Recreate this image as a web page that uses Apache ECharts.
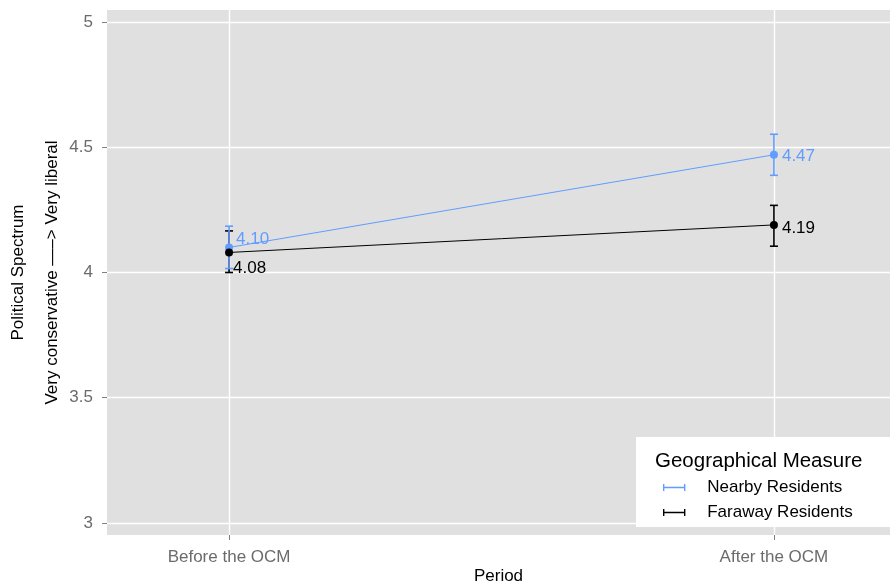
<!DOCTYPE html>
<html>
<head>
<meta charset="utf-8" />
<title>Political Spectrum</title>
<script src="https://cdn.jsdelivr.net/npm/echarts@6/dist/echarts.min.js"></script>
<style>
  html, body { margin: 0; padding: 0; background: #fff; }
  #chart { width: 890px; height: 583px; }
</style>
</head>
<body>
<div id="chart"></div>
<script>
// data
const periods = ['Before the OCM', 'After the OCM'];
const groups = ['Nearby Residents', 'Faraway Residents'];
const nearbyMean = [4.10, 4.47];
const nearbyLow = [4.016, 4.388];
const nearbyHigh = [4.185, 4.552];
const farawayMean = [4.08, 4.19];
const farawayLow = [4.00, 4.105];
const farawayHigh = [4.166, 4.268];
const yTicks = [3, 3.5, 4, 4.5, 5];

const blue = '#619CFF';
const black = '#000000';
const font = 'Liberation Sans, Arial, Helvetica, sans-serif';

// label nudges (before / after), like the original geom_text placement
const labelOffsets = {
  'Nearby Residents': [[-5, -8], [-4, 2]],
  'Faraway Residents': [[-8, 16], [-4, 3]]
};

function lineSeries(name, means, color) {
  return {
    name: name,
    type: 'line',
    z: 3,
    symbol: 'circle',
    symbolSize: 8,
    lineStyle: { color: color, width: 1 },
    itemStyle: { color: color },
    label: {
      show: true,
      position: 'right',
      distance: 8,
      color: color,
      fontSize: 17,
      fontFamily: font,
      formatter: function (p) { return p.value[1].toFixed(2); }
    },
    emphasis: { disabled: true },
    data: means.map(function (m, i) {
      return {
        value: [i, m],
        label: { offset: labelOffsets[name][i] }
      };
    })
  };
}

function errorSeries(name, low, high, color) {
  return {
    name: name,
    type: 'custom',
    z: 2,
    itemStyle: { color: color },
    data: low.map(function (l, i) { return [i, l, high[i]]; }),
    renderItem: function (params, api) {
      const lo = api.coord([api.value(0), api.value(1)]);
      const hi = api.coord([api.value(0), api.value(2)]);
      const w = 4;
      const st = { stroke: color, lineWidth: 1.6 };
      return {
        type: 'group',
        children: [
          { type: 'line', shape: { x1: lo[0], y1: lo[1], x2: hi[0], y2: hi[1] }, style: st },
          { type: 'line', shape: { x1: lo[0] - w, y1: lo[1], x2: lo[0] + w, y2: lo[1] }, style: st },
          { type: 'line', shape: { x1: hi[0] - w, y1: hi[1], x2: hi[0] + w, y2: hi[1] }, style: st }
        ]
      };
    }
  };
}

const chart = echarts.init(document.getElementById('chart'));

const legendIcon = 'path://M0,0h2v10h-2z M0,4h32v2h-32z M30,0h2v10h-2z';

chart.setOption({
  backgroundColor: '#ffffff',
  animation: false,
  grid: {
    left: 107, right: 0, top: 10, bottom: 48,
    outerBoundsMode: 'none',
    containLabel: false,
    show: true, backgroundColor: '#e0e0e0', borderWidth: 0
  },
  xAxis: {
    type: 'value',
    min: -0.224,
    max: 1.213,
    name: 'Period',
    nameLocation: 'middle',
    nameGap: 33,
    nameMoveOverlap: false,
    nameTextStyle: { color: '#000', fontSize: 17, fontFamily: font },
    axisLine: { show: false, onZero: false },
    axisTick: { show: true, length: 5, customValues: [0, 1], lineStyle: { color: '#7f7f7f' } },
    axisLabel: {
      customValues: [0, 1],
      margin: 14,
      color: '#6b6b6b',
      fontSize: 17,
      fontFamily: font,
      formatter: function (v) { return periods[Math.round(v)]; }
    },
    splitLine: { show: true, lineStyle: { color: '#ffffff', width: 1.4 } }
  },
  yAxis: {
    type: 'value',
    min: 2.952,
    max: 5.048,
    name: 'Political Spectrum\nVery conservative —–> Very liberal',
    nameLocation: 'middle',
    nameRotate: 90,
    nameGap: 38,
    nameMoveOverlap: false,
    nameTextStyle: { color: '#000', fontSize: 17, lineHeight: 34, fontFamily: font },
    axisLine: { show: false, onZero: false },
    axisTick: { show: true, length: 5, customValues: yTicks, lineStyle: { color: '#7f7f7f' } },
    axisLabel: {
      customValues: yTicks,
      margin: 14,
      color: '#6b6b6b',
      fontSize: 17,
      fontFamily: font
    },
    splitLine: { show: true, lineStyle: { color: '#ffffff', width: 1.4 } }
  },
  legend: {
    orient: 'vertical',
    left: 636,
    top: 437,
    backgroundColor: '#ffffff',
    padding: [42, 60, 6, 27],
    itemGap: 8,
    itemWidth: 32,
    itemHeight: 7,
    selectedMode: false,
    textStyle: { color: '#000', fontSize: 17, lineHeight: 17, fontFamily: font, padding: [0, 0, 0, 12] },
    data: groups.map(function (g) { return { name: g, icon: legendIcon }; })
  },
  graphic: [{
    type: 'text',
    left: 655,
    top: 451,
    z: 100,
    style: { text: 'Geographical Measure', fill: '#000', font: '20.5px ' + font }
  }],
  series: [
    errorSeries('Faraway Residents', farawayLow, farawayHigh, black),
    errorSeries('Nearby Residents', nearbyLow, nearbyHigh, blue),
    lineSeries('Nearby Residents', nearbyMean, blue),
    lineSeries('Faraway Residents', farawayMean, black)
  ]
});

window.onresize = function () {
  chart.resize();
};
</script>
</body>
</html>
